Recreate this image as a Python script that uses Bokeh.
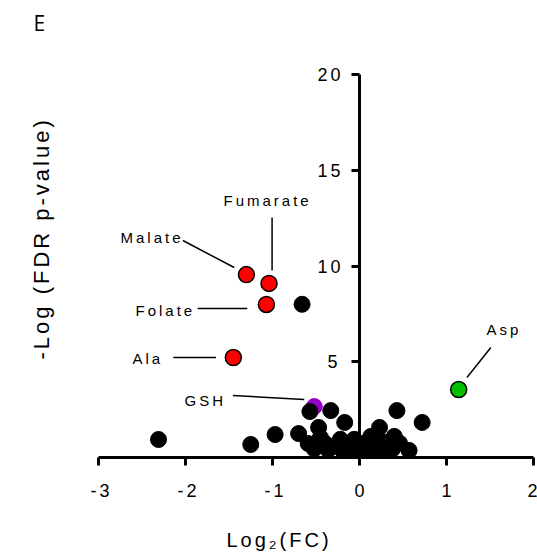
from bokeh.plotting import figure
from bokeh.models import (Range1d, FixedTicker, Label, ColumnDataSource, LinearAxis,
                          InlineStyleSheet, CustomJSTickFormatter)
from bokeh.embed import file_html
from bokeh.resources import INLINE
import math

# ---- data ----
names = ["Malate", "Fumarate", "Folate", "Ala", "Asp", "GSH"]
named_x = [-1.30, -1.04, -1.07, -1.45, 1.14, -0.52]
named_y = [9.55, 9.09, 7.99, 5.22, 3.55, 2.66]
named_colors = ["#ff0000", "#ff0000", "#ff0000", "#ff0000", "#00c000", "#9900cc"]

other_x = [-0.66, -2.31, -1.25, -0.97, -0.70, -0.57, -0.33, -0.17, 0.43, 0.72,
           0.23, 0.40, 0.57, -0.47, -0.59, -0.45,
           -0.52, -0.40, -0.36, -0.28, -0.22, -0.20, -0.13, -0.10, -0.06, -0.03,
           0.00, 0.04, 0.08, 0.10, 0.13, 0.16, 0.20, 0.25, 0.30, 0.34, 0.38, 0.46]
other_y = [8.00, 0.94, 0.68, 1.20, 1.25, 2.40, 2.45, 1.83, 2.45, 1.83,
           1.57, 1.10, 0.37, 1.57, 0.73, 1.05,
           0.45, 0.75, 0.40, 0.62, 0.95, 0.40, 0.75, 0.45, 0.95, 0.38,
           0.60, 0.38, 0.80, 0.45, 1.10, 0.60, 0.40, 0.85, 0.50, 0.80, 0.45, 0.75]

x_ticks = [-3, -2, -1, 0, 1, 2]
y_ticks = [5, 10, 15, 20]

# label text positions (left edge, data units) and leader lines
label_pos = {
    "Malate": (-2.747, 11.5),
    "Fumarate": (-1.563, 13.4),
    "Folate": (-2.575, 7.7),
    "Ala": (-2.609, 5.15),
    "GSH": (-2.011, 3.0),
    "Asp": (1.460, 6.7),
}
leaders_x0 = [-2.03, -1.005, -1.86, -2.14, -1.455, 1.51]
leaders_y0 = [11.33, 12.53, 7.78, 5.22, 3.24, 5.74]
leaders_x1 = [-1.44, -1.005, -1.29, -1.65, -0.635, 1.235]
leaders_y1 = [9.92, 9.76, 7.78, 5.22, 3.03, 4.18]

FONT = "Liberation Sans"
PX_X = 87.0     # pixels per x unit
PX_Y = 19.15    # pixels per y unit

p = figure(width=537, height=557, output_backend="svg", toolbar_location=None,
           x_range=Range1d(-3 - 98 / PX_X, 2), y_range=Range1d(0, 457 / PX_Y),
           min_border_left=0, min_border_right=4, min_border_top=0, min_border_bottom=100,
           y_axis_location=None)
p.grid.visible = False
p.outline_line_color = None
p.background_fill_color = "white"
p.border_fill_color = "white"
p.stylesheets = [InlineStyleSheet(css=":host { letter-spacing: 3px; }")]

fmt = CustomJSTickFormatter(code="return String(tick);")

# x axis
xa = p.xaxis[0]
xa.ticker = FixedTicker(ticks=x_ticks)
xa.bounds = (-3, 2)
xa.formatter = fmt
xa.minor_tick_line_color = None
xa.axis_line_width = 3
xa.major_tick_line_width = 3
xa.major_tick_out = 8
xa.major_tick_in = 0
xa.major_label_standoff = 18
xa.major_label_text_font = FONT
xa.major_label_text_font_size = "18px"
xa.major_label_text_color = "black"
xa.axis_label = "Log\u2082(FC)"
xa.axis_label_standoff = 29
xa.axis_label_text_font = FONT
xa.axis_label_text_font_size = "20px"
xa.axis_label_text_font_style = "normal"
xa.axis_label_text_color = "black"

# y axis crossing at x = 0
ya = LinearAxis(ticker=FixedTicker(ticks=y_ticks), fixed_location=0, bounds=(0, 20),
                formatter=fmt)
ya.minor_tick_line_color = None
ya.axis_line_width = 3
ya.major_tick_line_width = 3
ya.major_tick_out = 8
ya.major_tick_in = 0
ya.major_label_standoff = 14
ya.major_label_text_font = FONT
ya.major_label_text_font_size = "18px"
ya.major_label_text_color = "black"
p.add_layout(ya, "left")

# points
src_other = ColumnDataSource(dict(x=other_x, y=other_y))
gsh_i = names.index("GSH")
p.scatter([named_x[gsh_i]], [named_y[gsh_i]], size=16, fill_color=named_colors[gsh_i],
          line_color=named_colors[gsh_i], line_width=1)
p.scatter("x", "y", source=src_other, size=16, fill_color="black", line_color="black")
idx = [i for i in range(len(names)) if names[i] != "GSH"]
src_named = ColumnDataSource(dict(x=[named_x[i] for i in idx], y=[named_y[i] for i in idx],
                                  c=[named_colors[i] for i in idx]))
p.scatter("x", "y", source=src_named, size=16, fill_color="c", line_color="black", line_width=1.5)

# leader lines
p.segment(leaders_x0, leaders_y0, leaders_x1, leaders_y1, line_color="black", line_width=1.5)

for n in names:
    lx, ly = label_pos[n]
    p.add_layout(Label(x=lx, y=ly, text=n, text_align="left", text_baseline="middle",
                       text_font=FONT, text_font_size="15px", text_color="black"))

# panel letter and y title (screen units from the frame's bottom-left corner)
p.add_layout(Label(x=33, y=435, x_units="screen", y_units="screen", text="E",
                   text_font="Open Sans", text_font_size="21px", text_color="black",
                   text_align="left", text_baseline="middle"))
p.add_layout(Label(x=41, y=98, x_units="screen", y_units="screen", text="-Log (FDR p-value)",
                   angle=math.pi / 2, text_font=FONT, text_font_size="22px", text_color="black",
                   text_align="left", text_baseline="middle"))

open("out.html", "w").write(file_html(p, INLINE))
